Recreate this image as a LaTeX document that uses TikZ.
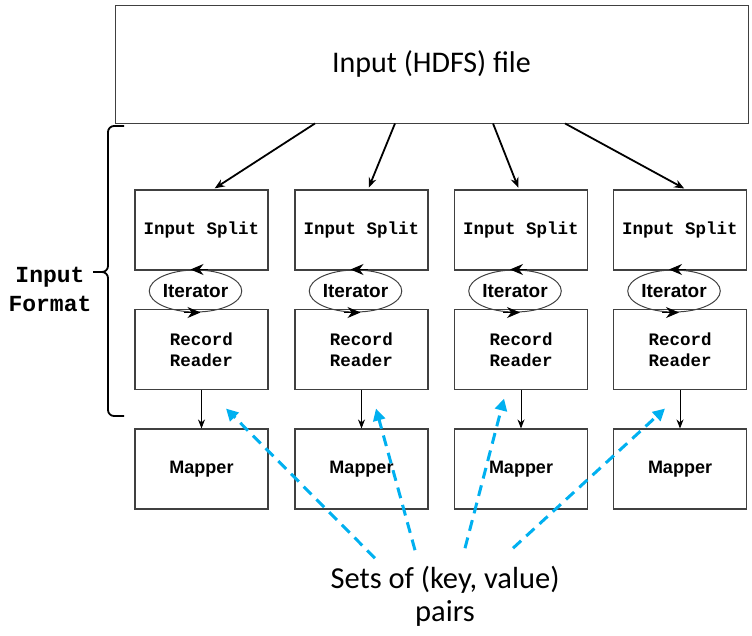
\documentclass[tikz,border=0pt]{standalone}
\usepackage{fontspec}
\setmainfont{Carlito}
\newfontfamily\boxmono{Liberation Mono}
\newfontfamily\boxsans{Liberation Sans}
\usepackage{tikz}
\usetikzlibrary{positioning, arrows.meta, shapes.geometric}
\definecolor{kvblue}{HTML}{00B0F0}
\definecolor{boxgray}{HTML}{404040}

\begin{document}
\begin{tikzpicture}[x=1pt, y=-1pt,
  box/.style={draw=boxgray, line width=1.1pt, minimum width=133pt, minimum height=80pt, inner sep=0pt, align=center, font=\boxmono\bfseries\fontsize{17.5}{21}\selectfont},
  mapbox/.style={box, font=\boxsans\bfseries\fontsize{18}{20}\selectfont},
  iterloop/.style={ellipse, draw=boxgray, line width=1pt, minimum width=68pt, minimum height=42pt, inner sep=0pt, font=\boxsans\bfseries\fontsize{19}{20}\selectfont},
  looptip/.style={-{Stealth[length=13pt,width=11pt]}, line width=1pt},
  feed/.style={-{Stealth[length=10pt,width=8pt]}, line width=1.8pt, shorten >=2pt},
  pass/.style={-{Stealth[length=9pt,width=7pt]}, line width=0.9pt},
  kvarrow/.style={kvblue, line width=3pt, dash pattern=on 11pt off 7pt, -{Triangle[length=12pt,width=12pt]}}]
\useasboundingbox (0,0) rectangle (752,635);
% input file
\node[draw=boxgray, line width=0.9pt, minimum width=633pt, minimum height=118pt, font=\fontsize{30}{34}\selectfont] (hdfs) at (431.5,64) {Input (HDFS) file};
% the four columns
\foreach \i/\x in {1/201.5, 2/361.5, 3/521, 4/680} {
  \node[box] (split\i) at (\x,230) {Input Split};
  \node[box] (reader\i) at (\x,349.5) {Record\\Reader};
  \node[iterloop] (iter\i) at (\x-6,291) {Iterator};
  \draw[looptip] ([xshift=12pt]iter\i.north) -- ([xshift=-5pt]iter\i.north);
  \draw[looptip] ([xshift=-12pt]iter\i.south) -- ([xshift=5pt]iter\i.south);
  \node[mapbox] (mapper\i) at (\x,469) {Mapper};
  \draw[pass] (reader\i) -- (mapper\i);
}
\draw[feed] ([xshift=-116.5pt]hdfs.south) -- ([xshift=11.5pt]split1.north);
\draw[feed] ([xshift=-36.5pt]hdfs.south) -- ([xshift=6.5pt]split2.north);
\draw[feed] ([xshift=61.5pt]hdfs.south) -- ([xshift=-2pt]split3.north);
\draw[feed] ([xshift=133.5pt]hdfs.south) -- ([xshift=6pt]split4.north);
% brace and label
\node[font=\boxmono\bfseries\fontsize{23}{29}\selectfont, align=center] (fmt) at (50,289) {Input\\Format};
\draw[line width=1.8pt, rounded corners=6pt] (124,126) -- (108,126) -- (108,272) -- (93,272);
\draw[line width=1.8pt, rounded corners=6pt] (124,416) -- (108,416) -- (108,272) -- (93,272);
% key value pairs
\node[font=\fontsize{30.5}{33}\selectfont, align=center, inner sep=0pt] (kv) at (445,596) {Sets of (key, value)\\pairs};
\draw[kvarrow] ([xshift=-70pt,yshift=7.5pt]kv.north) -- ([xshift=24.5pt,yshift=-18.5pt]reader1.south);
\draw[kvarrow] ([xshift=-30pt,yshift=15.5pt]kv.north) -- ([xshift=14.5pt,yshift=-18.5pt]reader2.south);
\draw[kvarrow] ([xshift=20pt,yshift=17.5pt]kv.north) -- ([xshift=-17pt,yshift=-8.5pt]reader3.south);
\draw[kvarrow] ([xshift=68pt,yshift=17.5pt]kv.north) -- ([xshift=-15pt,yshift=-18.5pt]reader4.south);
\end{tikzpicture}
\end{document}
